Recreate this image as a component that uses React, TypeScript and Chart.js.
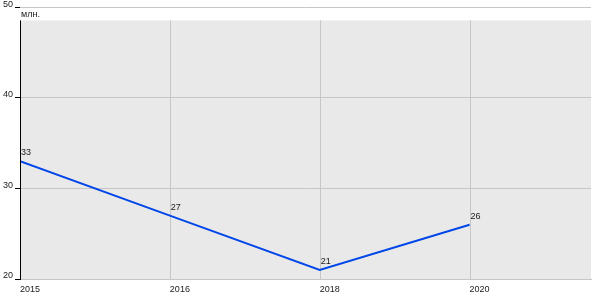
import React, { useEffect, useRef } from "react";
import { Chart, registerables } from "chart.js";

Chart.register(...registerables);

const categories = ["2015", "2016", "2018", "2020"];
const values = [33, 27, 21, 26];
const yTicks = [20, 30, 40, 50];
const unitLabel = "млн.";

const FONT = "Arial, 'Liberation Sans', sans-serif";

const decorPlugin = {
  id: "decor",
  beforeDraw(chart: any) {
    const { ctx, chartArea } = chart;
    const top = chartArea.top + 13;
    ctx.save();
    ctx.fillStyle = "#e9e9e9";
    ctx.fillRect(chartArea.left, top, chartArea.right - chartArea.left, chartArea.bottom + 1 - top);
    ctx.restore();
  },
  beforeDatasetsDraw(chart: any) {
    const { ctx, chartArea, scales } = chart;
    const top = chartArea.top + 13;
    ctx.save();
    ctx.strokeStyle = "#c6c6c6";
    ctx.lineWidth = 1;
    categories.forEach((_, i) => {
      if (i === 0) return;
      const x = Math.round(scales.x.getPixelForValue(i)) + 0.5;
      ctx.beginPath();
      ctx.moveTo(x, top);
      ctx.lineTo(x, chartArea.bottom);
      ctx.stroke();
    });
    ctx.restore();
  },
  afterDatasetsDraw(chart: any) {
    const { ctx, chartArea, scales } = chart;
    const top = chartArea.top + 13;
    ctx.save();
    // left axis line
    ctx.strokeStyle = "#000";
    ctx.lineWidth = 1;
    const x0 = Math.round(chartArea.left) + 0.5;
    ctx.beginPath();
    ctx.moveTo(x0, top);
    ctx.lineTo(x0, chartArea.bottom + 1);
    ctx.stroke();
    // unit label
    ctx.fillStyle = "#1a1a1a";
    ctx.font = `9px ${FONT}`;
    ctx.textAlign = "left";
    ctx.textBaseline = "alphabetic";
    ctx.fillText(unitLabel, chartArea.left + 1, chartArea.top + 10);
    // data labels
    values.forEach((v, i) => {
      const x = scales.x.getPixelForValue(i);
      const y = scales.y.getPixelForValue(v);
      ctx.fillText(String(v), x + 1, y - 6);
    });
    ctx.restore();
  },
};

export default function App() {
  const ref = useRef<HTMLCanvasElement>(null);
  useEffect(() => {
    document.body.style.margin = "0";
    const chart = new Chart(ref.current!, {
      type: "line",
      data: {
        datasets: [
          {
            data: values.map((v, i) => ({ x: i, y: v })),
            borderColor: "#0046e8",
            borderWidth: 2,
            pointRadius: 0,
            tension: 0,
            fill: false,
          },
        ],
      },
      options: {
        animation: false,
        responsive: false,
        maintainAspectRatio: false,
        layout: { padding: { top: 7, right: 9, left: 0, bottom: 0 } },
        plugins: { legend: { display: false }, tooltip: { enabled: false } },
        scales: {
          x: {
            type: "linear",
            min: 0,
            max: 3.81,
            afterFit: (s: any) => {
              s.height = 21;
            },
            afterBuildTicks: (s: any) => {
              s.ticks = categories.map((_, i) => ({ value: i }));
            },
            grid: { display: false, drawTicks: false },
            border: { display: true, color: "#c6c6c6" },
            ticks: {
              callback: (v: any) => categories[v] ?? "",
              align: "start",
              padding: 5,
              maxRotation: 0,
              autoSkip: false,
              color: "#1a1a1a",
              font: { family: FONT, size: 9 },
            },
          },
          y: {
            min: 20,
            max: 50,
            afterFit: (s: any) => {
              s.width = 20;
            },
            afterBuildTicks: (s: any) => {
              s.ticks = yTicks.map((v) => ({ value: v }));
            },
            grid: {
              color: (c: any) => (c.tick && c.tick.value === 20 ? "rgba(0,0,0,0)" : "#c6c6c6"),
              tickColor: "#000",
              tickLength: 5,
            },
            border: { display: false },
            ticks: {
              padding: 2,
              labelOffset: -3,
              color: "#1a1a1a",
              font: { family: FONT, size: 9 },
            },
          },
        },
      },
      plugins: [decorPlugin],
    } as any);
    return () => chart.destroy();
  }, []);
  return (
    <div style={{ width: 600, height: 300 }}>
      <canvas ref={ref} width={600} height={300} style={{ display: "block" }} />
    </div>
  );
}
